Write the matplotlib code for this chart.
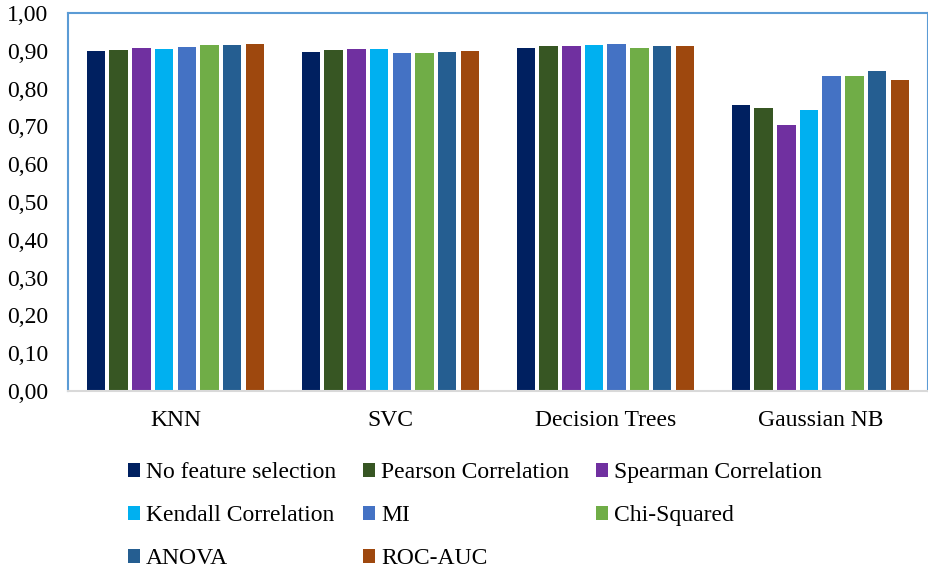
import matplotlib.pyplot as plt
import numpy as np

plt.rcParams['font.family'] = ['Liberation Serif', 'DejaVu Serif']

models = ["KNN", "SVC", "Decision Trees", "Gaussian NB"]
methods = ["No feature selection", "Pearson Correlation", "Spearman Correlation",
           "Kendall Correlation", "MI", "Chi-Squared", "ANOVA", "ROC-AUC"]
colors = ["#002060", "#375623", "#7030A0", "#00B0F0",
          "#4472C4", "#70AD47", "#255E91", "#9E480E"]

# scores per method, one value per model (KNN, SVC, DT, GNB)
no_fs    = [0.899, 0.898, 0.908, 0.757]
pearson  = [0.902, 0.903, 0.913, 0.748]
spearman = [0.907, 0.905, 0.913, 0.704]
kendall  = [0.905, 0.905, 0.915, 0.743]
mi       = [0.910, 0.894, 0.918, 0.833]
chi2     = [0.915, 0.894, 0.908, 0.833]
anova    = [0.915, 0.898, 0.914, 0.846]
roc_auc  = [0.917, 0.899, 0.913, 0.824]
scores = [no_fs, pearson, spearman, kendall, mi, chi2, anova, roc_auc]

fig = plt.figure(figsize=(9.29, 5.68), dpi=100)
ax = fig.add_axes([0.0732, 0.3116, 0.9255, 0.6655])

x = np.arange(len(models))
step = 0.1056
bars = []
for i, (vals, c) in enumerate(zip(scores, colors)):
    offs = (i - 3.5) * step
    b = ax.bar(x + offs, vals, width=0.086, color=c, label=methods[i])
    bars.append(b)

ax.set_xlim(-0.5, 3.5)
ax.set_ylim(0, 1.0)
ax.set_yticks(np.arange(0, 1.01, 0.1))
ax.set_yticklabels([f"{v:.2f}".replace(".", ",") for v in np.arange(0, 1.01, 0.1)])
ax.set_xticks(x)
ax.set_xticklabels(models)
ax.tick_params(axis='both', length=0, labelsize=17)
ax.tick_params(axis='y', pad=14)
ax.tick_params(axis='x', pad=14)

for s in ['left', 'top', 'right']:
    ax.spines[s].set_color('#5B9BD5')
    ax.spines[s].set_linewidth(1.5)
ax.spines['bottom'].set_color('#D9D9D9')
ax.spines['bottom'].set_linewidth(1.5)

# legend filled column by column, so reorder to get row-wise layout
order = [0, 3, 6, 1, 4, 7, 2, 5]
fig.legend([bars[i] for i in order], [methods[i] for i in order],
           loc='upper left', bbox_to_anchor=(0.138, 0.186), ncol=3,
           frameon=False, fontsize=17, handlelength=0.5, handleheight=0.5,
           handletextpad=0.25, columnspacing=1.15, labelspacing=0.93,
           borderaxespad=0, borderpad=0)

fig.savefig("out.png", dpi=100)
